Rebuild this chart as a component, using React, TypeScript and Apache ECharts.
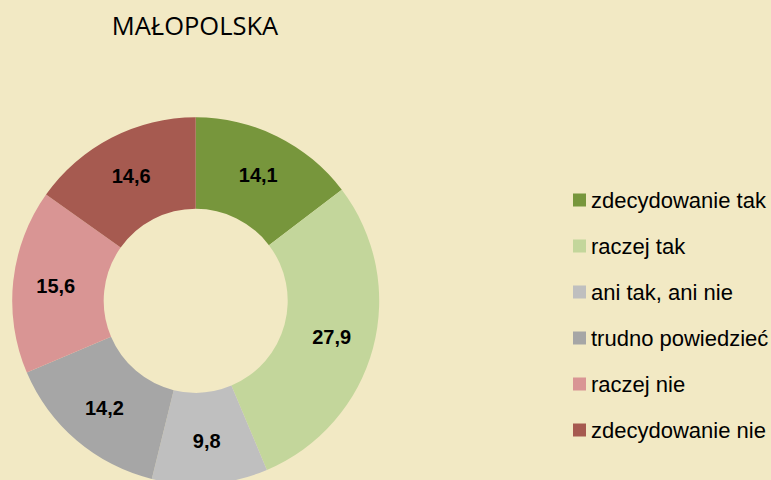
import React, { useEffect, useRef } from "react";
import * as echarts from "echarts";

const categories = [
  "zdecydowanie tak",
  "raczej tak",
  "ani tak, ani nie",
  "trudno powiedzieć",
  "raczej nie",
  "zdecydowanie nie",
];
const values = [14.1, 27.9, 9.8, 14.2, 15.6, 14.6];
const colors = ["#77963C", "#C3D69B", "#BFBFBF", "#A6A6A6", "#D99594", "#A65A50"];
const titleText = "MAŁOPOLSKA";

export default function App() {
  const ref = useRef<HTMLDivElement>(null);
  useEffect(() => {
    if (!ref.current) return;
    const chart = echarts.init(ref.current, undefined, { renderer: "svg" });
    chart.setOption({
      animation: false,
      backgroundColor: "#F2E9C4",
      graphic: [
        {
          type: "text",
          x: 195,
          y: 25,
          style: {
            text: titleText,
            font: "25.5px 'Open Sans', sans-serif",
            fill: "#000",
            textAlign: "center",
            textVerticalAlign: "middle",
          },
        },
      ],
      legend: {
        orient: "vertical",
        left: 573,
        top: 189,
        padding: 0,
        icon: "rect",
        itemWidth: 13,
        itemHeight: 13,
        itemGap: 24,
        data: categories,
        textStyle: {
          fontFamily: "'Liberation Sans', Arial, sans-serif",
          fontSize: 22,
          lineHeight: 22,
          color: "#000",
        },
      },
      series: [
        {
          type: "pie",
          center: [195.7, 300.8],
          radius: [92, 183.5],
          startAngle: 90,
          clockwise: true,
          avoidLabelOverlap: false,
          label: {
            show: true,
            position: "inside",
            formatter: (p: any) => Number(p.value).toFixed(1).replace(".", ","),
            fontFamily: "'Liberation Sans', Arial, sans-serif",
            fontWeight: "bold",
            fontSize: 20,
            color: "#000",
          },
          labelLine: { show: false },
          emphasis: { disabled: true },
          data: categories.map((name, i) => ({
            name,
            value: values[i],
            itemStyle: { color: colors[i] },
          })),
        },
      ],
    });
    return () => chart.dispose();
  }, []);
  return (
    <div
      ref={ref}
      style={{ position: "fixed", left: 0, top: 0, width: 771, height: 480 }}
    />
  );
}
